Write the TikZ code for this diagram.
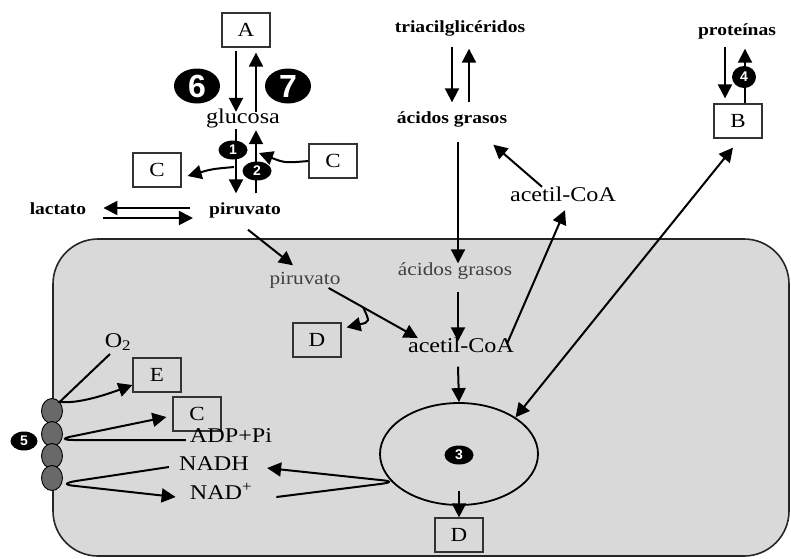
\documentclass[tikz,border=0pt]{standalone}
\usepackage{fontspec}
\setmainfont[FakeStretch=1.15]{Liberation Serif}
\setsansfont{Liberation Sans}
\usepackage{tikz}
\usetikzlibrary{arrows.meta}
\usetikzlibrary{positioning,calc}
\usetikzlibrary{shapes.geometric}
\definecolor{cellgray}{RGB}{217,217,217}
\definecolor{membgray}{RGB}{105,105,105}
\tikzset{
    lbl/.style={
        inner sep=0pt,
        text height=0.7em,
        text depth=0.2em,
        font=\fontsize{21}{21}\selectfont
    },
    minor/.style={
        lbl,
        font=\bfseries\fontsize{17}{17}\selectfont
    },
    inner/.style={
        lbl,
        text=black!75,
        font=\fontsize{18.5}{18.5}\selectfont
    },
    lettbox/.style={
        draw=black!80,
        line width=1.2pt,
        minimum width=48pt,
        minimum height=34pt,
        inner sep=0pt,
        font=\fontsize{20}{20}\selectfont
    },
    badge/.style={
        ellipse,
        fill=black,
        text=white,
        inner sep=0pt,
        minimum width=29pt,
        minimum height=19pt,
        font=\sffamily\bfseries\fontsize{14}{14}\selectfont
    },
    bigbadge/.style={
        badge,
        minimum width=46pt,
        minimum height=35pt,
        font=\sffamily\bfseries\fontsize{32}{32}\selectfont
    },
    arr/.style={
        -{Triangle[length=14pt, width=14pt]},
        line width=2pt
    },
    darr/.style={
        {Triangle[length=14pt, width=14pt]}-{Triangle[length=14pt, width=14pt]},
        line width=2pt
    }
}

\begin{document}
\begin{tikzpicture}[x=1pt, y=-1pt]
    \useasboundingbox (0,0) rectangle (791,558);

    % Cell
    \draw[line width=1.6pt, draw=black!85, fill=cellgray, rounded corners=45pt] (53,239) rectangle (789,556);

    % Outside the cell
    \node[lettbox] (A) at (246,30) {A};
    \node[lbl] (glu) at (243,121) {glucosa};
    \node[lettbox] (Cl) at (157,170) {C};
    \node[lettbox] (Cr) at (333,161) {C};
    \node[minor] (lact) at (58,212) {lactato};
    \node[minor] (pir) at (245,212) {piruvato};
    \node[minor] (tag) at (460,30) {triacilglicéridos};
    \node[minor] (agout) at (452,121) {ácidos grasos};
    \node[lbl] (acout) at (563,199) {acetil-CoA};
    \node[minor] (prot) at (737,33) {proteínas};
    \node[lettbox] (B) at (738,121) {B};

    % Inside the cell
    \node[inner] (pirin) at (305,282) {piruvato};
    \node[inner] (agin) at (455,273) {ácidos grasos};
    \node[lettbox] (Din) at (317,340) {D};
    \node[lbl] (acin) at (461,350) {acetil-CoA};
    \node[ellipse, draw, line width=1.8pt, minimum width=158pt, minimum height=102pt] (kc) at (459,454) {};
    \node[lettbox] (Dout) at (459,535) {D};
    \node[lbl] (O2) at (118,345) {O\textsubscript{2}};
    \node[lettbox] (E) at (157,375) {E};
    \node[lettbox] (Cin) at (197,414) {C};
    \node[lbl] (adp) at (231,440) {ADP+Pi};
    \node[lbl] (nadh) at (214,468) {NADH};
    \node[lbl] (nad) at (221,497) {NAD\textsuperscript{+}};

    % Membrane
    \foreach \y [count=\i] in {411,434,456,478}
        \node[ellipse, draw, fill=membgray, line width=0.9pt, minimum width=21pt, minimum height=25pt, inner sep=0pt] (m\i) at (52,\y) {};

    % Branch points
    \coordinate (bl) at (234,167);
    \coordinate (bd) at (363,307);

    % Glucose
    \draw[arr] ([xshift=-10pt, yshift=-3pt]A.south) -- ([xshift=-7pt, yshift=4.5pt]glu.north);
    \draw[arr] ([xshift=13pt, yshift=4.5pt]glu.north) -- ([xshift=10pt, yshift=-5pt]A.south);
    \draw[arr] ([xshift=-7pt, yshift=-3.5pt]glu.south) -- ([xshift=-9pt, yshift=14pt]pir.north);
    \draw[arr] ([xshift=11pt, yshift=14pt]pir.north) -- ([xshift=13pt, yshift=-4.5pt]glu.south);
    \draw[arr] (bl) .. controls (212,169) .. ([xshift=6pt, yshift=-6pt]Cl.east);
    \draw[arr] (Cr.west) .. controls (285,163) .. (259,153);
    \draw[arr] ([xshift=-19pt, yshift=4pt]pir.west) -- ([xshift=17pt, yshift=4pt]lact.east);
    \draw[arr] ([xshift=17pt, yshift=-6pt]lact.east) -- ([xshift=-16pt, yshift=-6pt]pir.west);
    \draw[arr] ([xshift=3pt, yshift=-13pt]pir.south) -- ([xshift=-12pt, yshift=12pt]pirin.north);
    \draw[arr] ([xshift=-12pt, yshift=-6pt]pirin.east) -- ([xshift=10pt, yshift=12pt]acin.west);
    \draw[arr] (bd) .. controls (370,322) .. ([xshift=5pt, yshift=-5pt]Din.north east);

    % Lipids
    \draw[arr] ([xshift=-8pt, yshift=-12pt]tag.south) -- ([yshift=14pt]agout.north);
    \draw[arr] ([xshift=17pt, yshift=14pt]agout.north) -- ([xshift=9pt, yshift=-14pt]tag.south);
    \draw[arr] ([xshift=6pt, yshift=-16pt]agout.south) -- ([xshift=3pt, yshift=5pt]agin.north);
    \draw[arr] ([xshift=3pt, yshift=-14pt]agin.south) -- ([xshift=-3pt, yshift=4pt]acin.north);
    \draw[arr] ([xshift=46pt, yshift=1.5pt]acin.north) -- ([xshift=2pt, yshift=-6.5pt]acout.south);
    \draw[arr] ([xshift=-21pt, yshift=7.5pt]acout.north) -- ([xshift=-14pt, yshift=-19pt]agout.south east);

    % Proteins
    \draw[arr] ([xshift=-12pt, yshift=-9.5pt]prot.south) -- ([xshift=-13pt, yshift=5pt]B.north);
    \draw[arr] ([xshift=7pt]B.north) -- ([xshift=8pt, yshift=-11pt]prot.south);
    \draw[darr] (kc.33) -- ([xshift=-5pt, yshift=-9pt]B.south);

    % Krebs cycle
    \draw[arr] ([xshift=-3pt, yshift=-12pt]acin.south) -- (kc.north);
    \draw[arr] ([yshift=15pt]kc.south) -- (Dout.north);

    % Respiratory chain
    \draw[arr] ([xshift=-8pt, yshift=-9pt]O2.center) -- (m1.north east) .. controls (78,404) and (105,395) .. ([yshift=-10pt]E.west);
    \draw[arr] ([xshift=-4pt]adp.west) -- (74,440) .. controls (62,440) and (62,438) .. (74,436) -- ([xshift=-6pt, yshift=-3pt]Cin.west);
    \draw[arr] ([xshift=-10pt, yshift=1pt]nadh.west) -- (76,481) .. controls (64,483) and (64,485) .. (76,486) -- ([xshift=-14pt]nad.west);
    \draw[arr] ([xshift=24pt]nad.east) -- (380,484) .. controls (392,482.5) and (392,481) .. (380,480) -- ([xshift=18pt]nadh.east);

    % Numbered steps
    \node[bigbadge] (six) at (197,86) {6};
    \node[bigbadge] (seven) at (288,86) {7};
    \node[badge] (one) at (233,150) {1};
    \node[badge] (two) at (257,171) {2};
    \node[badge] (three) at (459,455) {3};
    \node[badge, minimum width=24pt, minimum height=22pt] (four) at (744,77) {4};
    \node[badge, minimum width=27pt] (five) at (24,441) {5};
\end{tikzpicture}
\end{document}
